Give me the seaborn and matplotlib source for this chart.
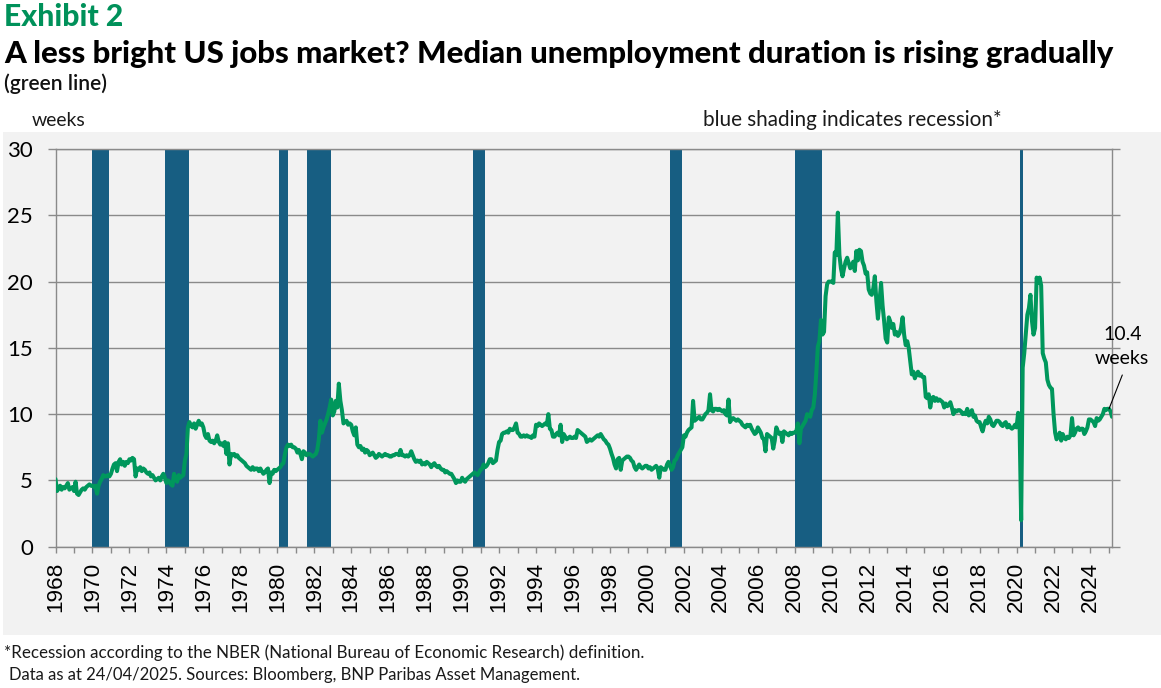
import numpy as np
import pandas as pd
import matplotlib
matplotlib.use("Agg")
import matplotlib.pyplot as plt
import matplotlib.dates as mdates
from matplotlib.patches import Rectangle
import seaborn as sns

# ---------------- data (median unemployment duration, weeks, monthly from Jan 1968) ----------------
weeks_1968_1977 = [
    5.1, 4.2, 4.4, 4.6, 4.3, 4.5, 4.4, 4.6, 4.8, 4.3, 4.4, 4.5,
    4.2, 4.9, 4.0, 3.9, 4.1, 4.3, 4.4, 4.3, 4.5, 4.6, 4.7, 4.6,
    4.6, 4.5, 4.6, 4.0, 4.6, 4.9, 5.1, 5.4, 5.3, 5.3, 5.4, 5.3,
    5.5, 5.9, 6.2, 6.3, 5.7, 6.4, 6.6, 6.2, 6.4, 6.1, 6.4, 6.3,
    6.6, 6.5, 6.7, 6.6, 5.3, 5.9, 5.8, 6.0, 5.7, 5.9, 5.8, 5.6,
    5.5, 5.6, 5.3, 5.4, 5.2, 5.0, 5.1, 5.2, 5.0, 5.3, 5.5, 5.2,
    4.8, 5.0, 4.9, 4.7, 4.6, 5.5, 5.1, 4.9, 5.4, 5.2, 5.3, 5.4,
    6.5, 7.0, 9.0, 9.4, 9.1, 9.0, 9.3, 8.9, 9.2, 9.5, 9.2, 9.3,
    9.0, 8.4, 8.2, 8.5, 8.0, 7.9, 8.0, 7.8, 8.0, 8.4, 7.9, 7.7,
    7.8, 7.6, 7.9, 7.0, 7.8, 6.2, 7.0, 6.9, 7.0, 6.8, 6.9, 6.7,
]
weeks_1978_1987 = [
    6.6, 6.5, 6.4, 6.3, 6.1, 6.0, 5.9, 5.8, 6.0, 5.8, 5.9, 5.9,
    5.7, 5.9, 5.7, 5.5, 5.6, 5.8, 5.9, 4.8, 5.6, 5.5, 5.8, 5.7,
    5.8, 5.9, 6.0, 6.2, 6.3, 7.0, 7.5, 7.7, 7.6, 7.7, 7.5, 7.5,
    7.4, 7.1, 7.3, 7.0, 6.6, 7.2, 7.1, 6.9, 7.0, 7.0, 6.9, 6.8,
    6.9, 7.0, 7.3, 8.1, 9.5, 8.6, 9.0, 9.3, 9.6, 10.0, 10.5, 11.1,
    9.9, 10.2, 11.0, 10.5, 12.3, 11.0, 10.3, 9.3, 9.4, 9.5, 9.2, 9.3,
    9.2, 8.7, 8.4, 9.0, 7.7, 7.5, 7.6, 7.3, 7.4, 7.1, 7.3, 7.2,
    6.9, 7.0, 7.1, 6.9, 6.7, 6.8, 7.0, 6.9, 6.8, 6.9, 7.0, 6.9,
    6.9, 6.8, 6.8, 6.9, 6.9, 7.0, 7.0, 6.9, 7.3, 6.9, 6.9, 6.8,
    6.9, 6.8, 6.9, 7.2, 6.9, 6.6, 6.4, 6.5, 6.4, 6.5, 6.2, 6.3,
]
weeks_1988_1997 = [
    6.2, 6.4, 6.3, 6.2, 6.0, 6.2, 6.3, 6.1, 6.0, 6.1, 5.9, 5.8,
    5.8, 5.6, 5.7, 5.6, 5.5, 5.5, 5.3, 5.1, 4.8, 5.0, 4.9, 4.9,
    5.2, 5.0, 4.9, 5.1, 5.2, 5.3, 5.4, 5.5, 5.6, 5.5, 5.4, 5.6,
    5.8, 5.9, 6.2, 6.0, 6.1, 6.3, 6.6, 6.6, 6.3, 6.4, 6.5, 7.3,
    7.9, 8.0, 8.5, 8.6, 8.6, 8.7, 8.6, 8.9, 8.8, 8.8, 9.0, 9.3,
    8.6, 8.5, 8.3, 8.3, 8.4, 8.3, 8.4, 8.3, 8.3, 8.2, 8.4, 8.3,
    9.2, 9.1, 9.3, 9.2, 9.1, 9.2, 9.3, 9.2, 10.0, 8.9, 8.8, 8.3,
    8.3, 8.5, 8.6, 8.4, 9.2, 7.9, 8.5, 8.3, 8.1, 8.2, 8.3, 8.2,
    8.2, 8.3, 8.2, 8.8, 8.7, 8.6, 8.5, 8.4, 8.3, 7.9, 8.0, 8.1,
    8.0, 8.1, 8.2, 8.3, 8.4, 8.3, 8.5, 8.3, 8.1, 8.0, 7.8, 7.7,
]
weeks_1998_2007 = [
    7.4, 7.0, 6.7, 6.2, 5.9, 6.6, 6.7, 5.8, 6.5, 6.6, 6.7, 6.8,
    6.8, 6.7, 6.5, 6.4, 6.0, 5.8, 6.0, 6.2, 6.0, 5.9, 6.0, 6.1,
    6.1, 5.9, 6.0, 5.8, 5.9, 6.0, 6.1, 5.9, 5.2, 6.0, 5.9, 5.8,
    5.8, 6.2, 6.4, 6.1, 5.8, 6.0, 6.5, 6.6, 6.9, 7.1, 7.3, 7.5,
    8.4, 8.3, 8.6, 8.8, 8.9, 9.0, 11.0, 9.5, 9.6, 9.7, 9.8, 9.6,
    9.6, 9.8, 10.0, 10.1, 10.3, 11.5, 10.3, 10.2, 10.4, 10.4, 10.3, 10.4,
    10.3, 10.2, 10.3, 10.0, 9.9, 11.1, 9.4, 9.6, 9.7, 9.6, 9.5, 9.6,
    9.5, 9.4, 9.2, 9.1, 9.0, 9.2, 9.1, 9.2, 8.9, 8.7, 8.5, 8.6,
    9.0, 8.8, 8.6, 8.2, 8.1, 7.2, 8.5, 8.4, 8.3, 8.2, 7.4, 8.0,
    9.0, 8.7, 8.5, 8.6, 7.9, 8.7, 8.6, 8.5, 8.4, 8.6, 8.5, 8.6,
]
weeks_2008_2017 = [
    8.6, 8.7, 9.3, 7.8, 8.9, 9.1, 9.3, 9.5, 10.0, 9.9, 9.8, 10.3,
    10.5, 11.5, 13.1, 15.1, 15.5, 17.1, 16.0, 16.2, 18.9, 19.8, 20.0, 20.0,
    20.0, 19.9, 22.2, 22.0, 25.2, 22.0, 21.0, 20.4, 21.0, 21.5, 21.8, 21.4,
    21.0, 21.2, 21.5, 20.8, 22.3, 21.6, 22.4, 22.3, 21.5, 21.2, 20.6, 20.7,
    19.4, 19.1, 19.0, 19.5, 20.4, 18.5, 17.2, 18.5, 19.9, 18.2, 17.0, 15.7,
    15.4, 17.3, 17.0, 16.5, 16.8, 16.0, 16.2, 15.9, 16.1, 16.5, 17.3, 16.0,
    15.2, 15.5, 15.0, 14.0, 13.0, 13.2, 12.7, 13.0, 13.2, 12.9, 13.0, 12.8,
    12.8, 11.3, 11.2, 11.5, 10.5, 11.2, 11.3, 11.0, 11.2, 11.0, 11.1, 11.0,
    10.9, 10.5, 10.8, 10.6, 10.7, 10.9, 10.5, 10.0, 10.3, 10.2, 10.3, 10.3,
    10.2, 10.0, 10.1, 10.0, 10.4, 9.9, 10.0, 10.3, 9.8, 9.9, 9.5, 9.4,
]
weeks_2018_2025 = [
    9.4, 9.0, 8.7, 9.2, 9.5, 9.3, 9.8, 9.6, 9.2, 9.1, 9.3, 9.5,
    9.5, 9.4, 9.2, 9.1, 9.3, 9.4, 9.0, 9.2, 9.0, 8.9, 9.0, 9.2,
    9.0, 10.1, 9.0, 2.0, 13.5, 14.6, 16.0, 17.5, 18.0, 19.0, 17.0, 16.0,
    16.5, 20.3, 19.9, 20.3, 19.7, 14.6, 14.2, 13.9, 12.6, 12.2, 12.0, 11.9,
    10.0, 8.6, 8.1, 8.3, 8.6, 8.0, 8.5, 8.2, 8.1, 8.3, 8.2, 8.4,
    9.7, 8.4, 8.6, 8.9, 9.0, 8.8, 8.9, 8.9, 8.5, 8.7, 9.0, 9.6,
    9.6, 9.5, 9.4, 9.1, 9.7, 9.5, 9.6, 9.8, 10.0, 10.4, 10.3, 10.4,
    10.4, 10.2, 9.8,
]
series_start = "1968-01-01"

# NBER recessions (first month after peak -> end of trough month)
recession_start = ["1970-01-01", "1973-12-01", "1980-02-01", "1981-08-01",
                   "1990-08-01", "2001-04-01", "2008-01-01", "2020-03-01"]
recession_end = ["1970-12-01", "1975-04-01", "1980-08-01", "1982-12-01",
                 "1991-04-01", "2001-12-01", "2009-07-01", "2020-05-01"]

y_ticks = [0, 5, 10, 15, 20, 25, 30]
annot_date = "2025-01-01"
annot_label = "10.4\nweeks"

title_exhibit = "Exhibit 2"
title_main = "A less bright US jobs market? Median unemployment duration is rising gradually"
subtitle = "(green line)"
unit_label = "weeks"
shade_label = "blue shading indicates recession*"
footer_1 = "*Recession according to the NBER (National Bureau of Economic Research) definition."
footer_2 = "Data as at 24/04/2025. Sources: Bloomberg, BNP Paribas Asset Management."

# ---------------- build frame ----------------
weeks = (weeks_1968_1977 + weeks_1978_1987 + weeks_1988_1997 +
         weeks_1998_2007 + weeks_2008_2017 + weeks_2018_2025)
dates = pd.date_range(series_start, periods=len(weeks), freq="MS")
df = pd.DataFrame({"date": dates, "weeks": weeks})

# ---------------- style ----------------
GREEN = "#00975c"
EXHIBIT_GREEN = "#00915a"
BAR = "#175e82"
GRID = "#8a8a8a"
PANEL = "#f2f2f2"
TXT = "#1a1a1a"

sns.set_theme(style="white")
plt.rcParams["font.family"] = ["Lato", "DejaVu Sans"]
TITLE_FAMILY = ["Lato", "DejaVu Sans"]
XTICK_FAMILY = ["Liberation Sans", "DejaVu Sans"]

W, H = 1161, 688
fig = plt.figure(figsize=(W / 100, H / 100), dpi=100)
fig.patch.set_facecolor("white")
fig.patches.append(Rectangle((3 / W, 1 - 635 / H), (W - 3) / W, (635 - 132) / H,
                             transform=fig.transFigure, facecolor=PANEL,
                             edgecolor="none", zorder=-5))

ax = fig.add_axes([55.5 / W, 1 - 546.7 / H, (1112 - 55.5) / W, (546.7 - 149) / H])
ax.set_zorder(2)
ax.set_facecolor("none")
ax.set_axisbelow(True)

for s, e in zip(recession_start, recession_end):
    ax.axvspan(pd.Timestamp(s), pd.Timestamp(e), color=BAR, lw=0, zorder=1)

sns.lineplot(data=df, x="date", y="weeks", ax=ax, color=GREEN, linewidth=2.9,
             zorder=3)

ax.set_xlim(pd.Timestamp(series_start), df["date"].iloc[-1])
ax.set_ylim(0, 30)
ax.set_yticks(y_ticks)
ax.set_yticklabels([str(v) for v in y_ticks])
ax.set_xlabel("")
ax.set_ylabel("")

ax.grid(axis="y", color=GRID, lw=1.0)
ax.grid(axis="x", visible=False)
for side in ["left", "right", "bottom", "top"]:
    ax.spines[side].set_visible(True)
    ax.spines[side].set_color(GRID)
    ax.spines[side].set_linewidth(1.0)

ax.xaxis.set_major_locator(mdates.YearLocator(2))
ax.xaxis.set_minor_locator(mdates.YearLocator(1))
ax.xaxis.set_major_formatter(mdates.DateFormatter("%Y"))
ax.tick_params(axis="x", which="both", bottom=True, direction="out",
               length=4.3, width=1.0, color=GRID)
ax.tick_params(axis="x", which="major", labelsize=16.5, pad=6.0,
               labelrotation=90, labelcolor="black")

ax.tick_params(axis="y", which="major", left=True, right=True, labelright=False,
               direction="out", length=5.6, width=1.0, color=GRID,
               labelsize=16, pad=10.5, labelcolor="black")

# annotation
row = df.loc[df["date"] == pd.Timestamp(annot_date)].iloc[0]
ax.annotate("", xy=(row["date"], row["weeks"]), xycoords="data",
            xytext=(1122.3, H - 375), textcoords="figure pixels",
            arrowprops=dict(arrowstyle="-", color="black", lw=0.8,
                            shrinkA=0, shrinkB=0), zorder=5)
l1, l2 = annot_label.split("\n")
fig.text(1122.5 / W, 1 - 340 / H, l1, ha="center", va="baseline",
         fontsize=14, color="black")
fig.text(1122 / W, 1 - 364 / H, l2, ha="center", va="baseline",
         fontsize=14, color="black")

# ---------------- text with fitted widths ----------------
texts = []


def put(txt, x, baseline, width, **kw):
    t = fig.text(x / W, 1 - baseline / H, txt, ha="left", va="baseline", **kw)
    texts.append((t, width))
    return t


put(title_exhibit, 4, 26, 119, color=EXHIBIT_GREEN, fontweight=900,
    fontsize=20, family=TITLE_FAMILY)
put(title_main, 4, 63, 1113, color="black", fontweight=900, fontsize=20,
    family=TITLE_FAMILY)
put(subtitle, 4, 90.5, 103, color="#111111", fontweight="semibold", fontsize=14)
put(unit_label, 32, 126, 54, color=TXT, fontweight="normal", fontsize=14)
put(shade_label, 703, 126, 300, color=TXT, fontweight="normal", fontsize=14)
put(footer_1, 4, 658, 641, color=TXT, fontweight="normal", fontsize=12)
put(footer_2, 9, 680, 571, color=TXT, fontweight="normal", fontsize=12)

fig.canvas.draw()
renderer = fig.canvas.get_renderer()
for t, width in texts:
    w = t.get_window_extent(renderer).width
    t.set_fontsize(t.get_fontsize() * width / w)

# fit x tick labels: rotated "1968" ~50 px long, top edge ~562 px from top
xlabs = [l for l in ax.get_xticklabels() if l.get_text()]
for lab in xlabs:
    lab.set_fontfamily(XTICK_FAMILY)
fig.canvas.draw()
h = xlabs[0].get_window_extent(renderer).height
fs = 16.5 * 50.0 / h
ax.tick_params(axis="x", which="major", labelsize=fs)
for lab in ax.get_xticklabels():
    lab.set_fontfamily(XTICK_FAMILY)
    lab.set_fontsize(fs)
fig.canvas.draw()
top = xlabs[0].get_window_extent(renderer).y1
target_top = H - 561.5
pad_new = 6.0 + (top - target_top) * 72.0 / 100.0
ax.tick_params(axis="x", which="major", pad=pad_new)

fig.savefig("out.png", dpi=100, facecolor="white")
